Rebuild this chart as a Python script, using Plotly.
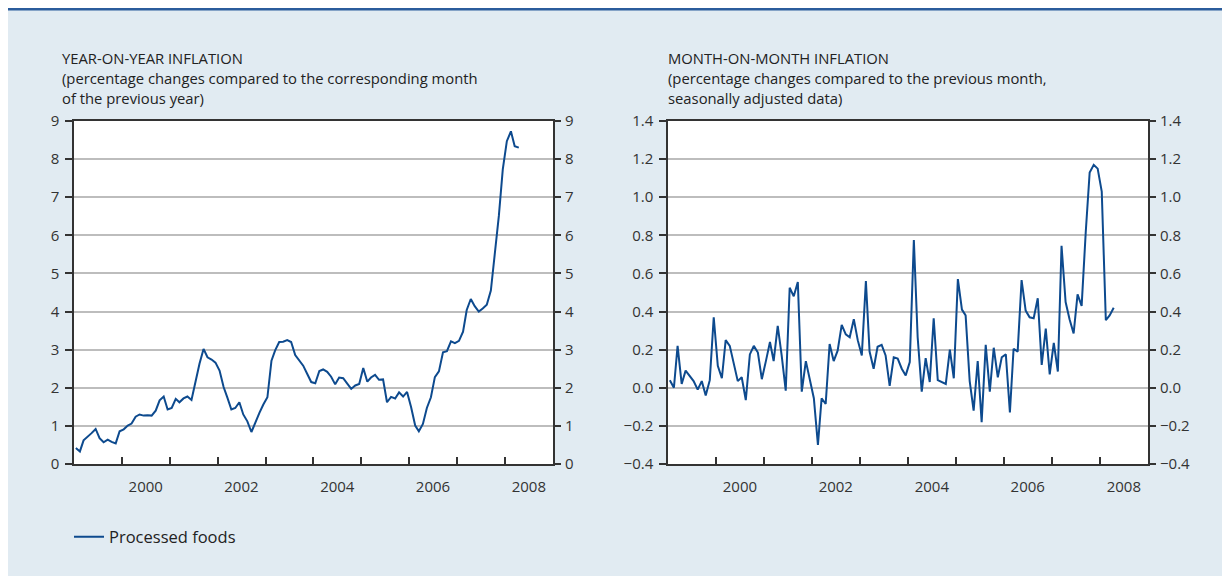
import pandas as pd
import plotly.graph_objects as go

# ---- data (monthly, Jan 1999 - Apr 2008) ----
series_name = "Processed foods"
yoy_values = [
    0.42, 0.33, 0.62, 0.71, 0.81, 0.92, 0.68, 0.57, 0.64, 0.58, 0.54, 0.86,
    0.91, 1.01, 1.06, 1.24, 1.30, 1.27, 1.28, 1.27, 1.40, 1.67, 1.77, 1.43,
    1.47, 1.71, 1.62, 1.72, 1.77, 1.68, 2.15, 2.63, 3.02, 2.80, 2.74, 2.66,
    2.45, 2.02, 1.75, 1.43, 1.47, 1.62, 1.30, 1.12, 0.84, 1.10, 1.34, 1.56,
    1.75, 2.71, 2.98, 3.20, 3.21, 3.25, 3.20, 2.86, 2.71, 2.58, 2.36, 2.15,
    2.12, 2.44, 2.48, 2.42, 2.29, 2.09, 2.27, 2.25, 2.11, 1.97, 2.06, 2.10,
    2.52, 2.16, 2.27, 2.34, 2.21, 2.22, 1.62, 1.76, 1.72, 1.88, 1.77, 1.89,
    1.49, 1.01, 0.86, 1.05, 1.47, 1.75, 2.28, 2.43, 2.93, 2.96, 3.22, 3.17,
    3.23, 3.47, 4.04, 4.33, 4.14, 4.00, 4.08, 4.18, 4.55, 5.46, 6.51, 7.73,
    8.47, 8.73, 8.34, 8.30,
]
mom_values = [
    0.04, 0.00, 0.22, 0.02, 0.09, 0.065, 0.035, -0.01, 0.035, -0.04, 0.04, 0.37,
    0.115, 0.05, 0.25, 0.22, 0.135, 0.035, 0.055, -0.065, 0.175, 0.22, 0.185, 0.045,
    0.14, 0.24, 0.14, 0.325, 0.17, -0.015, 0.525, 0.48, 0.555, -0.02, 0.14, 0.045,
    -0.055, -0.30, -0.055, -0.085, 0.23, 0.14, 0.195, 0.33, 0.28, 0.265, 0.36, 0.25,
    0.17, 0.56, 0.19, 0.10, 0.215, 0.225, 0.17, 0.01, 0.16, 0.153, 0.10, 0.065,
    0.135, 0.775, 0.265, -0.02, 0.155, 0.03, 0.365, 0.04, 0.03, 0.02, 0.20, 0.05,
    0.57, 0.41, 0.38, 0.035, -0.12, 0.14, -0.18, 0.225, -0.02, 0.21, 0.055, 0.16,
    0.175, -0.13, 0.205, 0.19, 0.565, 0.405, 0.37, 0.365, 0.47, 0.12, 0.31, 0.07,
    0.235, 0.085, 0.745, 0.45, 0.36, 0.285, 0.49, 0.43, 0.815, 1.13, 1.17, 1.15,
    1.03, 0.355, 0.38, 0.42,
]
dates = pd.date_range("1999-01-01", periods=len(yoy_values), freq="MS") + pd.Timedelta(days=14)

year_labels = ["2000", "2002", "2004", "2006", "2008"]
label_positions = [f"{y}-07-01" for y in year_labels]
year_ticks = [f"{y}-01-01" for y in range(2000, 2009)]
x_range = ["1999-01-01", "2009-01-01"]

yoy_range = [0, 9]
mom_range = [-0.4, 1.4]

left_title = ["YEAR-ON-YEAR INFLATION",
              "(percentage changes compared to the corresponding month",
              "of the previous year)"]
right_title = ["MONTH-ON-MONTH INFLATION",
               "(percentage changes compared to the previous month,",
               "seasonally adjusted data)"]

# ---- styling ----
W, H = 1222, 568          # page body has an 8px margin
BG = "#e1ebf2"
LINE = "#0d4a8e"
AXIS = "#333333"
GRID = "#bdbdbd"
FONT = "Open Sans"
TXT = "#222222"

def px_x(p):
    return p / W

def px_y(p):
    return 1 - p / H

y_dom = [px_y(456), px_y(113)]

fig = go.Figure()
fig.add_trace(go.Scatter(x=dates, y=yoy_values, mode="lines", name=series_name,
                         line=dict(color=LINE, width=2), xaxis="x", yaxis="y"))
fig.add_trace(go.Scatter(x=dates, y=yoy_values, mode="lines", showlegend=False, opacity=0,
                         hoverinfo="skip", line=dict(width=0), xaxis="x", yaxis="y2"))
fig.add_trace(go.Scatter(x=dates, y=mom_values, mode="lines", name=series_name, showlegend=False,
                         line=dict(color=LINE, width=2), xaxis="x2", yaxis="y3"))
fig.add_trace(go.Scatter(x=dates, y=mom_values, mode="lines", showlegend=False, opacity=0,
                         hoverinfo="skip", line=dict(width=0), xaxis="x2", yaxis="y4"))

tickfont = dict(family=FONT, size=15, color=AXIS)

def xaxis_cfg(domain, anchor):
    return dict(domain=domain, anchor=anchor, type="date", range=x_range,
                tickmode="array", tickvals=label_positions, ticktext=year_labels,
                ticks="", tickfont=tickfont, ticklabelstandoff=8,
                showgrid=False, zeroline=False,
                showline=True, linecolor=AXIS, linewidth=1.5, mirror=True,
                minor=dict(tickmode="array", tickvals=year_ticks, ticks="inside",
                           ticklen=7, tickwidth=1.5, tickcolor=AXIS, showgrid=False),
                automargin=False, fixedrange=True)

def yaxis_cfg(rng, dtick, fmt, anchor, grid=True, side="left", overlay=None):
    d = dict(range=rng, dtick=dtick, tick0=rng[0], tickformat=fmt, anchor=anchor, side=side,
             ticks="outside", ticklen=7, tickwidth=1.5, tickcolor=AXIS, tickfont=tickfont,
             ticklabelstandoff=3 if side == "left" else 1,
             showgrid=grid, gridcolor=GRID, gridwidth=1.5, zeroline=False,
             automargin=False, fixedrange=True)
    if overlay is None:
        d.update(domain=y_dom, showline=True, linecolor=AXIS, linewidth=1.5, mirror=True)
    else:
        d.update(overlaying=overlay, showline=False)
    return d

annotations = []
for x0, lines in ((52, left_title), (658, right_title)):
    for i, line in enumerate(lines):
        annotations.append(dict(text=line, xref="paper", yref="paper", x=px_x(x0), y=px_y(50 + 20 * i),
                                xanchor="left", yanchor="middle", align="left", showarrow=False,
                                font=dict(family=FONT, size=14.8, color=TXT)))

fig.update_layout(
    width=W, height=H,
    margin=dict(l=0, r=0, t=0, b=0),
    paper_bgcolor=BG, plot_bgcolor="white",
    font=dict(family=FONT, color=TXT),
    xaxis=xaxis_cfg([px_x(66), px_x(545)], "y"),
    xaxis2=xaxis_cfg([px_x(660), px_x(1140)], "y3"),
    yaxis=yaxis_cfg(yoy_range, 1, "d", "x"),
    yaxis2=yaxis_cfg(yoy_range, 1, "d", "x", grid=False, side="right", overlay="y"),
    yaxis3=yaxis_cfg(mom_range, 0.2, ".1f", "x2"),
    yaxis4=yaxis_cfg(mom_range, 0.2, ".1f", "x2", grid=False, side="right", overlay="y3"),
    showlegend=True,
    legend=dict(x=px_x(61), y=px_y(529), xanchor="left", yanchor="middle",
                orientation="h", bgcolor="rgba(0,0,0,0)",
                font=dict(family=FONT, size=16.5, color=TXT)),
    shapes=[
        dict(type="line", xref="paper", yref="paper", x0=0, x1=1, y0=px_y(1.3), y1=px_y(1.3),
             line=dict(color="#2b5c9c", width=2.5)),
    ],
    annotations=annotations,
)

fig.write_html("out.html")
